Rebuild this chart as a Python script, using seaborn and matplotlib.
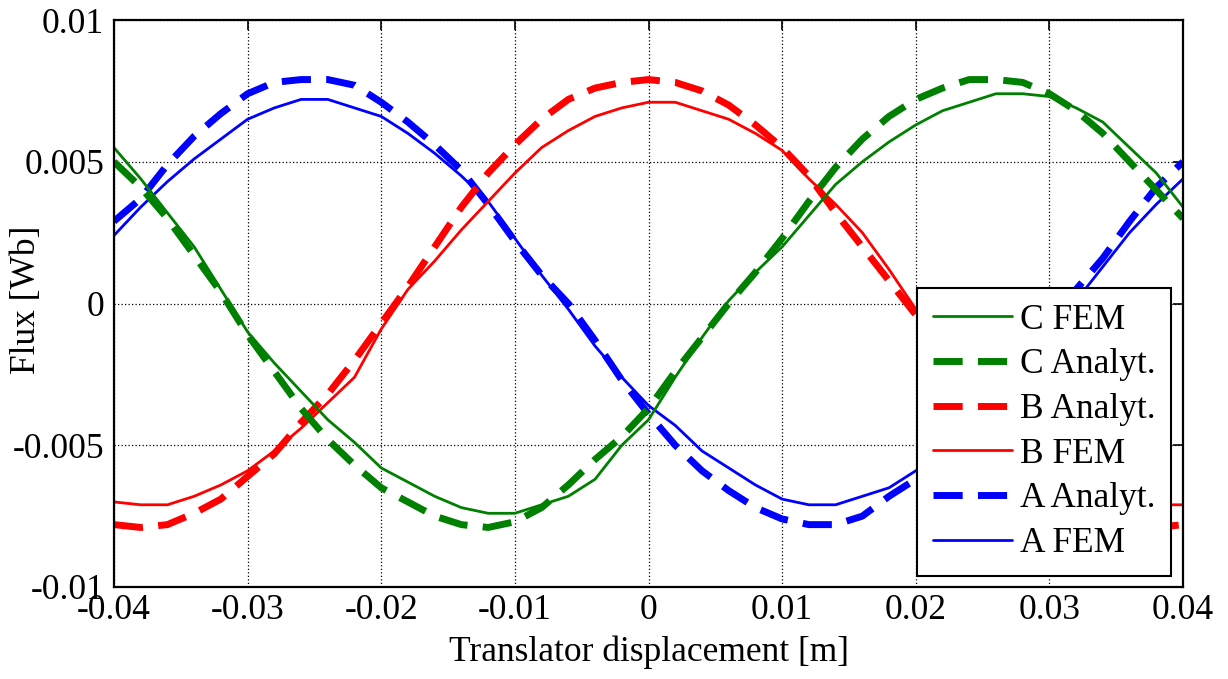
import numpy as np
import matplotlib
matplotlib.use("Agg")
import matplotlib.pyplot as plt
import seaborn as sns

# Translator displacement samples [m]
displacement = np.linspace(-0.04, 0.04, 41)

# Flux linkage per phase [Wb]
a_fem = [0.0024, 0.0034, 0.0043, 0.0051, 0.0058, 0.0065, 0.0069, 0.0072, 0.0072, 0.0069,
         0.0066, 0.0060, 0.0053, 0.0045, 0.0036, 0.0023, 0.0010, -0.0002, -0.0015, -0.0026,
         -0.0036, -0.0043, -0.0052, -0.0058, -0.0064, -0.0069, -0.0071, -0.0071, -0.0068, -0.0065,
         -0.0059, -0.0052, -0.0043, -0.0033, -0.0022, -0.0011, 0.0001, 0.0013, 0.0025, 0.0035,
         0.0044]
a_analyt = [0.0029, 0.0037, 0.0049, 0.0059, 0.0067, 0.0074, 0.0078, 0.0079, 0.0079, 0.0077,
            0.0071, 0.0064, 0.0056, 0.0047, 0.0035, 0.0022, 0.0010, 0.0000, -0.0013, -0.0027,
            -0.0039, -0.0050, -0.0059, -0.0066, -0.0072, -0.0076, -0.0078, -0.0078, -0.0075, -0.0068,
            -0.0062, -0.0055, -0.0045, -0.0034, -0.0022, -0.0008, 0.0005, 0.0016, 0.0029, 0.0041,
            0.0050]
b_fem = [-0.0070, -0.0071, -0.0071, -0.0068, -0.0064, -0.0059, -0.0052, -0.0044, -0.0035, -0.0026,
         -0.0009, 0.0005, 0.0015, 0.0026, 0.0036, 0.0046, 0.0055, 0.0061, 0.0066, 0.0069,
         0.0071, 0.0071, 0.0068, 0.0065, 0.0060, 0.0054, 0.0044, 0.0035, 0.0025, 0.0012,
         -0.0002, -0.0015, -0.0027, -0.0038, -0.0047, -0.0055, -0.0062, -0.0067, -0.0070, -0.0071,
         -0.0071]
b_analyt = [-0.0078, -0.0079, -0.0078, -0.0074, -0.0069, -0.0061, -0.0053, -0.0042, -0.0032, -0.0020,
            -0.0007, 0.0006, 0.0020, 0.0034, 0.0046, 0.0056, 0.0065, 0.0072, 0.0076, 0.0078,
            0.0079, 0.0078, 0.0075, 0.0070, 0.0063, 0.0055, 0.0045, 0.0032, 0.0020, 0.0008,
            -0.0004, -0.0020, -0.0032, -0.0042, -0.0053, -0.0061, -0.0069, -0.0074, -0.0078, -0.0079,
            -0.0078]
c_fem = [0.0055, 0.0044, 0.0032, 0.0020, 0.0005, -0.0010, -0.0021, -0.0031, -0.0041, -0.0049,
         -0.0058, -0.0063, -0.0068, -0.0072, -0.0074, -0.0074, -0.0071, -0.0068, -0.0062, -0.0050,
         -0.0041, -0.0026, -0.0012, 0.0001, 0.0011, 0.0020, 0.0031, 0.0042, 0.0050, 0.0057,
         0.0063, 0.0068, 0.0071, 0.0074, 0.0074, 0.0073, 0.0069, 0.0064, 0.0055, 0.0046,
         0.0034]
c_analyt = [0.0050, 0.0041, 0.0030, 0.0017, 0.0004, -0.0011, -0.0024, -0.0037, -0.0048, -0.0057,
            -0.0065, -0.0070, -0.0075, -0.0078, -0.0079, -0.0077, -0.0072, -0.0064, -0.0055, -0.0047,
            -0.0037, -0.0024, -0.0012, 0.0000, 0.0011, 0.0023, 0.0036, 0.0048, 0.0058, 0.0066,
            0.0072, 0.0076, 0.0079, 0.0079, 0.0078, 0.0074, 0.0068, 0.0060, 0.0050, 0.0040,
            0.0030]

x_ticks = [-0.04, -0.03, -0.02, -0.01, 0.0, 0.01, 0.02, 0.03, 0.04]
x_tick_labels = ["-0.04", "-0.03", "-0.02", "-0.01", "0", "0.01", "0.02", "0.03", "0.04"]
y_ticks = [-0.01, -0.005, 0.0, 0.005, 0.01]
y_tick_labels = ["-0.01", "-0.005", "0", "0.005", "0.01"]

sns.set_style("white")
plt.rcParams["font.family"] = ["Liberation Serif", "DejaVu Serif"]
plt.rcParams["axes.unicode_minus"] = False
plt.rcParams["text.color"] = "black"
plt.rcParams["axes.labelcolor"] = "black"
plt.rcParams["xtick.color"] = "black"
plt.rcParams["ytick.color"] = "black"

FS = 25.5
fig = plt.figure(figsize=(12.28, 6.79), dpi=100)
ax = fig.add_axes([0.0928, 0.1355, 0.8706, 0.835])

dash = (0, (4.2, 2.2))
series = [
    (a_fem, "A FEM", "#0000FF", 2.0, "-"),
    (a_analyt, "A Analyt.", "#0000FF", 5.0, dash),
    (b_fem, "B FEM", "#FF0000", 2.0, "-"),
    (b_analyt, "B Analyt.", "#FF0000", 5.0, dash),
    (c_analyt, "C Analyt.", "#008000", 5.0, dash),
    (c_fem, "C FEM", "#008000", 2.0, "-"),
]
for values, name, color, lw, ls in series:
    sns.lineplot(x=displacement, y=values, ax=ax, color=color, linewidth=lw,
                 linestyle=ls, label=name, sort=False, estimator=None)

ax.set_xlim(-0.04, 0.04)
ax.set_ylim(-0.01, 0.01)
ax.set_xticks(x_ticks)
ax.set_xticklabels(x_tick_labels)
ax.set_yticks(y_ticks)
ax.set_yticklabels(y_tick_labels)

ax.grid(True, color="black", linestyle=(0, (1.0, 1.8)), linewidth=0.9)
for sp in ax.spines.values():
    sp.set_visible(True)
    sp.set_color("black")
    sp.set_linewidth(1.6)
ax.tick_params(axis="both", which="both", direction="in", length=7, width=1.2,
               top=True, right=True, labelsize=FS, colors="black")
ax.tick_params(axis="x", pad=5)
ax.tick_params(axis="y", pad=7)

ax.set_xlabel("Translator displacement [m]", fontsize=FS, color="black")
ax.set_ylabel("Flux [Wb]", fontsize=FS, color="black")
ax.xaxis.set_label_coords(0.5, -0.086)
ax.yaxis.set_label_coords(-0.066, 0.506)

handles = ax.get_lines()[::-1]
labels = [h.get_label() for h in handles]
leg = ax.legend(handles, labels, loc="lower right", bbox_to_anchor=(0.9888, 0.0194),
                borderaxespad=0, fontsize=FS, frameon=True, fancybox=False,
                framealpha=1, edgecolor="black", borderpad=0.45, labelspacing=0.33,
                handlelength=2.25, handletextpad=0.2, labelcolor="black")
leg.get_frame().set_linewidth(1.5)

fig.savefig("out.png", dpi=100)
